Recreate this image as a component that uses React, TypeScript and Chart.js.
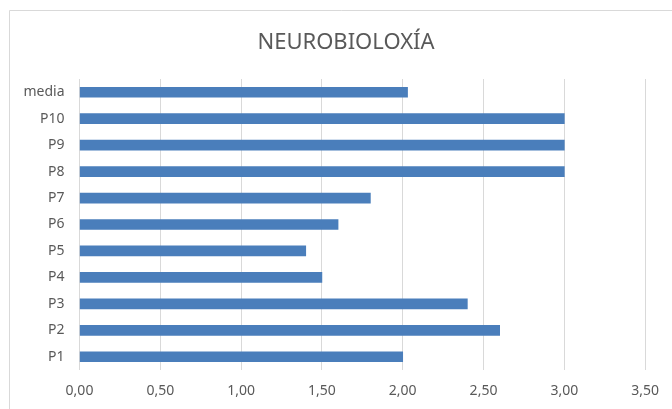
import React, { useEffect, useRef } from "react";
import { Chart, registerables } from "chart.js";

Chart.register(...registerables);

const categories = ["P1", "P2", "P3", "P4", "P5", "P6", "P7", "P8", "P9", "P10", "media"];
const values = [2.0, 2.6, 2.4, 1.5, 1.4, 1.6, 1.8, 3.0, 3.0, 3.0, 2.03];
const chartTitle = "NEUROBIOLOXÍA";

const borderPlugin = {
  id: "outerBorder",
  beforeDraw(chart: any) {
    const ctx = chart.ctx;
    ctx.save();
    ctx.fillStyle = "#ffffff";
    ctx.fillRect(0, 0, chart.width, chart.height);
    ctx.strokeStyle = "#d9d9d9";
    ctx.lineWidth = 1;
    ctx.beginPath();
    ctx.moveTo(9.5, chart.height + 5);
    ctx.lineTo(9.5, 10.5);
    ctx.lineTo(chart.width + 5, 10.5);
    ctx.stroke();
    ctx.restore();
  },
  afterDraw(chart: any) {
    const ctx = chart.ctx;
    ctx.save();
    ctx.fillStyle = "#595959";
    ctx.font = "22px 'Noto Sans', sans-serif";
    ctx.textAlign = "center";
    ctx.textBaseline = "middle";
    ctx.fillText(chartTitle, 346, 43);
    ctx.restore();
  },
};

export default function App() {
  const ref = useRef<HTMLCanvasElement>(null);
  useEffect(() => {
    document.body.style.margin = "0";
    const chart = new Chart(ref.current!, {
      type: "bar",
      data: {
        labels: categories,
        datasets: [
          {
            data: values,
            backgroundColor: "#4a7ebb",
            borderWidth: 0,
            barThickness: 10,
          },
        ],
      },
      plugins: [borderPlugin],
      options: {
        indexAxis: "y",
        animation: false,
        responsive: false,
        layout: { padding: { left: 0, right: 25, top: 79, bottom: 0 } },
        plugins: {
          legend: { display: false },
          tooltip: { enabled: false },
          title: { display: false },
        },
        scales: {
          x: {
            min: 0,
            max: 3.5,
            ticks: {
              stepSize: 0.5,
              color: "#595959",
              font: { family: "'Noto Sans', sans-serif", size: 14 },
              padding: 13,
              callback: (v: any) => Number(v).toFixed(2).replace(".", ","),
            },
            grid: { color: "#d9d9d9", lineWidth: 1, drawTicks: false },
            border: { display: false },
            afterFit: (s: any) => {
              s.height = 39;
            },
          },
          y: {
            reverse: true,
            ticks: {
              color: "#595959",
              font: { family: "'Noto Sans', sans-serif", size: 14 },
              padding: 15,
            },
            grid: { display: false, drawTicks: false },
            border: { display: false },
            afterFit: (s: any) => {
              s.width = 79.5;
            },
          },
        },
      },
    });
    return () => chart.destroy();
  }, []);
  return (
    <div style={{ width: 672, height: 409 }}>
      <canvas ref={ref} width={672} height={409} style={{ display: "block" }} />
    </div>
  );
}
